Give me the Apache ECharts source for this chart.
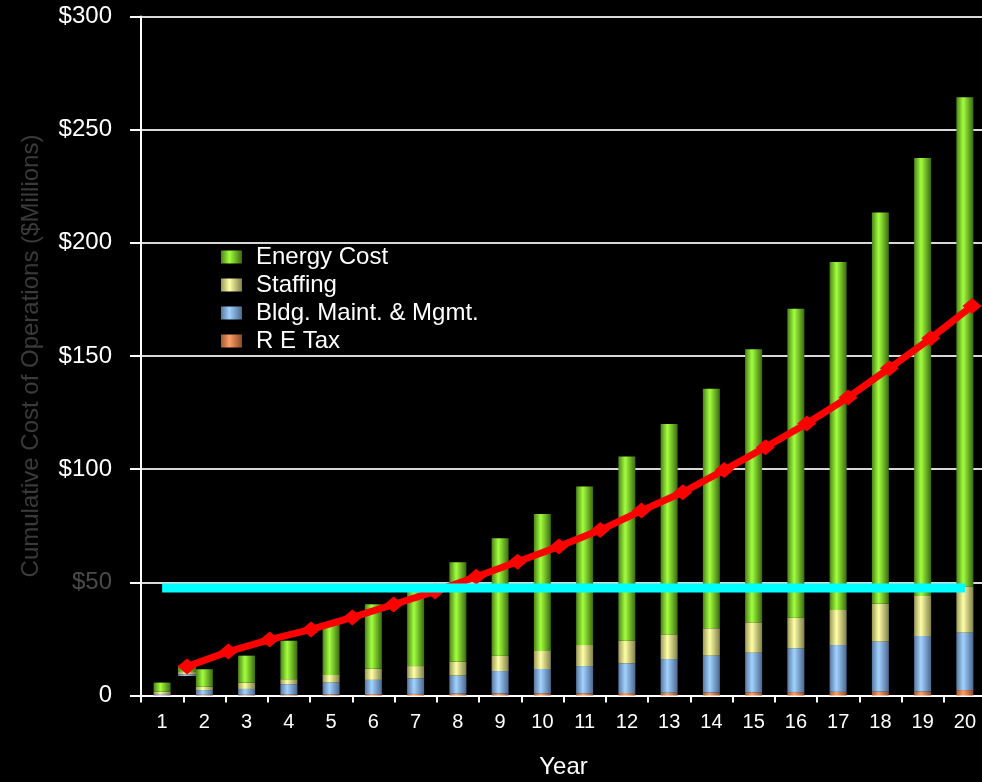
<!DOCTYPE html>
<html><head><meta charset="utf-8">
<script src="https://cdn.jsdelivr.net/npm/echarts@6/dist/echarts.min.js"></script>
<style>html,body{margin:0;padding:0;background:#000;}#c{width:982px;height:782px;}</style>
</head><body><div id="c"></div>
<script>
const years = ['1','2','3','4','5','6','7','8','9','10','11','12','13','14','15','16','17','18','19','20'];
const reTax   = [0.2,0.3,0.3,0.4,0.5,0.6,0.7,0.8,0.9,1.0,1.0,1.1,1.2,1.3,1.4,1.5,1.6,1.7,1.8,2.4];
const bldg    = [0.5,2.1,2.6,4.6,5.2,6.3,6.9,8.0,9.9,10.7,12.0,13.1,14.9,16.3,17.5,19.4,20.7,22.1,24.5,25.4];
const staffing= [1.0,1.5,2.8,2.2,3.4,4.9,5.4,6.2,6.8,8.0,9.3,10.0,10.9,12.1,13.4,13.5,15.5,16.7,17.7,20.3];
const energy  = [4.0,7.7,11.9,17.0,23.1,28.5,36.3,43.9,51.9,60.5,70.0,81.4,93.0,105.8,120.7,136.5,153.7,172.9,193.5,216.2];
const cumulativeLine = [12.8,19.4,24.7,29.2,34.5,40.2,46.0,52.5,59.1,65.8,73.1,81.7,89.8,99.6,109.7,120.2,131.7,144.6,157.8,172.1];
const thresholdLine = [[0,47.5],[19,47.5]];
// stray floating segment near the first line point
const ghostBase = [8.6], ghostBldg = [0.75], ghostStaff = [1.0], ghostEnergy = [2.9];
const yTicks = {min:0, max:300, interval:50};

function grad(dark, bright, dark2){
  return new echarts.graphic.LinearGradient(0,0,1,0,[
    {offset:0,color:dark},{offset:0.4,color:bright},{offset:1,color:dark2}]);
}
const cGreen = grad('#4c8418','#a2ff3e','#3a6a10');
const cYellow = grad('#9a9a58','#ffffa6','#80804a');
const cBlue = grad('#5878a0','#a2d2ff','#4a6890');
const cOrange = grad('#a05a30','#ff9e66','#8a4a28');

const chart = echarts.init(document.getElementById('c'));
const font = 'Liberation Sans, Arial, sans-serif';
chart.setOption({
  backgroundColor:'#000',
  animation:false,
  legend:{
    data:['Energy Cost','Staffing','Bldg. Maint. & Mgmt.','R E Tax'],
    orient:'vertical', left:221, top:245, padding:0,
    itemWidth:21, itemHeight:13, itemGap:4, icon:'rect',
    textStyle:{color:'#fff', fontSize:24, fontFamily:font, padding:[0,0,0,9]}
  },
  grid:[
    {left:141, width:845, top:16.5, height:679, outerBoundsMode:'none', containLabel:false},
    {left:187, width:785, top:16.5, height:679, outerBoundsMode:'none', containLabel:false}
  ],
  xAxis:[
    {type:'category', gridIndex:0, data:years,
     name:'Year', nameLocation:'middle', nameGap:60,
     nameTextStyle:{color:'#fff', fontSize:24, fontFamily:font},
     axisLine:{lineStyle:{color:'#fff', width:2}},
     axisTick:{show:true, alignWithLabel:false, length:7, lineStyle:{color:'#fff', width:2}},
     axisLabel:{color:'#fff', fontSize:20, fontFamily:font, margin:17}},
    {type:'category', gridIndex:1, data:years, boundaryGap:false, show:false}
  ],
  yAxis:[
    {type:'value', gridIndex:0, min:yTicks.min, max:yTicks.max, interval:yTicks.interval,
     name:'Cumulative Cost of Operations ($Millions)', nameLocation:'middle', nameGap:98,
     nameTextStyle:{color:'#3a3a3a', fontSize:24, fontFamily:font},
     axisLine:{show:true, lineStyle:{color:'#fff', width:2}},
     axisTick:{show:true, length:11, lineStyle:{color:'#fff', width:2}},
     splitLine:{show:true, lineStyle:{color:'#d8d8d8', width:2}},
     axisLabel:{fontSize:24, fontFamily:font, margin:29,
       color:function(v){return Number(v)===50 ? '#4a4a4a' : '#ffffff';},
       formatter:function(v){return v===0 ? '0' : '$'+v;}}},
    {type:'value', gridIndex:1, min:yTicks.min, max:yTicks.max, show:false}
  ],
  series:[
    {name:'R E Tax', type:'bar', stack:'cost', data:reTax, barWidth:17, itemStyle:{color:cOrange}},
    {name:'Bldg. Maint. & Mgmt.', type:'bar', stack:'cost', data:bldg, barWidth:17, itemStyle:{color:cBlue}},
    {name:'Staffing', type:'bar', stack:'cost', data:staffing, barWidth:17, itemStyle:{color:cYellow}},
    {name:'Energy Cost', type:'bar', stack:'cost', data:energy, barWidth:17, itemStyle:{color:cGreen}},
    {name:'g0', type:'bar', stack:'ghost', xAxisIndex:1, yAxisIndex:1, data:ghostBase, barWidth:18, itemStyle:{color:'rgba(0,0,0,0)'}},
    {name:'g1', type:'bar', stack:'ghost', xAxisIndex:1, yAxisIndex:1, data:ghostBldg, barWidth:18, itemStyle:{color:cBlue}},
    {name:'g2', type:'bar', stack:'ghost', xAxisIndex:1, yAxisIndex:1, data:ghostStaff, barWidth:18, itemStyle:{color:cYellow}},
    {name:'g3', type:'bar', stack:'ghost', xAxisIndex:1, yAxisIndex:1, data:ghostEnergy, barWidth:18, itemStyle:{color:cGreen}},
    {name:'Cumulative', type:'line', xAxisIndex:1, yAxisIndex:1, data:cumulativeLine, z:5,
     symbol:'diamond', symbolSize:[19,16], showSymbol:true,
     lineStyle:{color:'#ff0000', width:7}, itemStyle:{color:'#ff0000'}},
    {name:'Threshold', type:'line', xAxisIndex:0, yAxisIndex:0, data:thresholdLine, z:6,
     symbol:'none', lineStyle:{color:'#00ffff', width:9}}
  ]
});
</script>
</body></html>
